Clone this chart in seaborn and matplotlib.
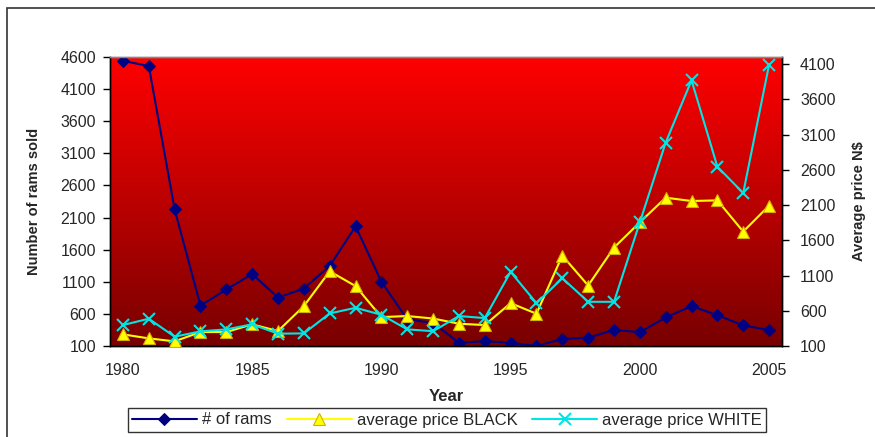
import numpy as np
import pandas as pd
import matplotlib
matplotlib.use("Agg")
import matplotlib.pyplot as plt
import seaborn as sns
from matplotlib.colors import LinearSegmentedColormap

years = list(range(1980, 2006))
rams = [4540, 4460, 2230, 730, 980, 1220, 855, 995, 1345, 1965, 1100,
        515, 460, 150, 175, 150, 100, 210, 230, 350, 315, 545, 720, 580, 420, 350]
price_black = [265, 208, 166, 298, 298, 407, 312, 666, 1160, 950, 510,
               525, 490, 416, 397, 708, 558, 1383, 958, 1496, 1855, 2204, 2157, 2166, 1723, 2091]
price_white = [397, 487, 232, 308, 336, 407, 275, 279, 562, 642, 543,
               336, 310, 525, 496, 1152, 708, 1062, 727, 727, 1855, 2987, 3869, 2643, 2270, 4091]
xtick_labels = ["1980", "1985", "1990", "1995", "2000", "2005"]
left_ticks = [100, 600, 1100, 1600, 2100, 2600, 3100, 3600, 4100, 4600]
right_ticks = [100, 600, 1100, 1600, 2100, 2600, 3100, 3600, 4100]

sns.set_style("white")
plt.rcParams['font.family'] = ['Liberation Sans', 'DejaVu Sans']

df = pd.DataFrame({"idx": np.arange(len(years)), "year": years, "rams": rams,
                   "black": price_black, "white": price_white})

fig = plt.figure(figsize=(8.75, 4.37), dpi=100)
fig.patch.set_facecolor("white")
fig.add_artist(plt.Rectangle((7 / 875, -0.05), 1.2, 1 - 8 / 437 + 0.05,
                             transform=fig.transFigure, fill=False,
                             edgecolor="#333333", linewidth=1.2))

ax = fig.add_axes([110 / 875, 1 - 346 / 437, (782 - 110) / 875, (346 - 57) / 437])
ax2 = ax.twinx()

grad = np.linspace(0, 1, 256).reshape(-1, 1)
cmap = LinearSegmentedColormap.from_list("redgrad", ["#FF0000", "#780000"])
ax.imshow(grad, aspect="auto", cmap=cmap, extent=[-0.5, 25.5, 100, 4600],
          origin="upper", zorder=0, interpolation="bicubic")

sns.lineplot(data=df, x="idx", y="rams", ax=ax, color="#000080", marker="D",
             markersize=6, markeredgecolor="#000080", linewidth=1.5,
             label="# of rams", legend=False, zorder=3)
sns.lineplot(data=df, x="idx", y="black", ax=ax2, color="#FFFF00", marker="^",
             markersize=9, markeredgecolor="#D4B000", markeredgewidth=0.8,
             linewidth=1.5, label="average price BLACK", legend=False, zorder=3)
sns.lineplot(data=df, x="idx", y="white", ax=ax2, color="#00E5E5", marker="x",
             markersize=8, markeredgecolor="#00E5E5", markeredgewidth=1.5, linewidth=1.5,
             label="average price WHITE", legend=False, zorder=4)

ax.set_xlim(-0.5, 25.5)
ax.set_ylim(100, 4600)
ax2.set_ylim(100, 4200)
ax.set_yticks(left_ticks)
ax.set_yticklabels([str(t) for t in left_ticks], fontsize=11.5)
ax2.set_yticks(right_ticks)
ax2.set_yticklabels([str(t) for t in right_ticks], fontsize=11.5)

ax.set_xticks([-0.5, 4.5, 9.5, 14.5, 19.5, 24.5])
ax.set_xticklabels([])
ax.set_xticks([0, 5, 10, 15, 20, 25], minor=True)
ax.set_xticklabels(xtick_labels, minor=True, fontsize=11.5)
ax.tick_params(axis="x", which="major", direction="inout", length=8, width=1, color="black")
ax.tick_params(axis="x", which="minor", length=0, pad=12)
ax.tick_params(axis="y", direction="out", length=5, width=1, color="black", pad=5, left=True)
ax2.tick_params(axis="y", direction="out", length=5, width=1, color="black", pad=8, right=True)

ax.set_xlabel("Year", fontsize=12, fontweight="bold", labelpad=8)
ax.set_ylabel("Number of rams sold", fontsize=10.5, fontweight="bold", labelpad=14)
ax2.set_ylabel("Average price N$", fontsize=10.5, fontweight="bold", labelpad=12)

for a in (ax, ax2):
    for s in ["left", "right", "bottom"]:
        a.spines[s].set_color("black")
        a.spines[s].set_linewidth(1)
    a.spines["top"].set_color("#888888")
    a.spines["top"].set_linewidth(1)
    a.grid(False)

h1, l1 = ax.get_legend_handles_labels()
h2, l2 = ax2.get_legend_handles_labels()
leg = fig.legend(h1 + h2, l1 + l2, loc="center", bbox_to_anchor=(447 / 875, 1 - 420 / 437),
                 ncol=3, fontsize=12, frameon=True, fancybox=False, edgecolor="black",
                 handlelength=3.9, columnspacing=0.9, handletextpad=0.3, borderpad=0.25)
leg.get_frame().set_linewidth(1)

fig.savefig("out.png", dpi=100)
